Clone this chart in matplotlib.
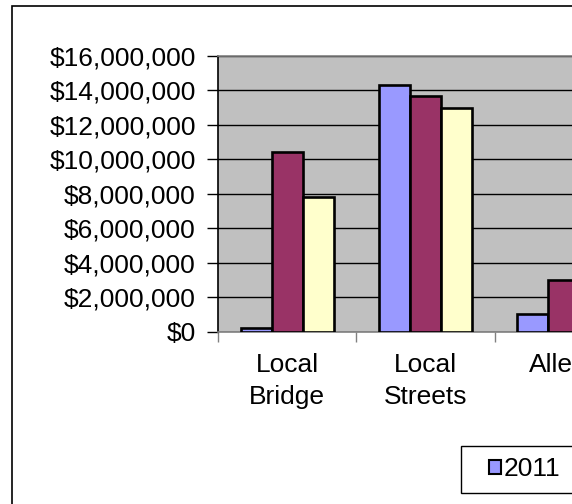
import matplotlib
matplotlib.use("Agg")
import matplotlib.pyplot as plt
from matplotlib.patches import Rectangle, Patch
from matplotlib.ticker import FuncFormatter, MultipleLocator
import numpy as np

categories = ["Local\nBridge", "Local\nStreets", "Alleys"]
series_names = ["2011", "2012", "2013"]
values_2011 = [200000, 14280000, 1010000]
values_2012 = [10410000, 13680000, 3020000]
values_2013 = [7780000, 12960000, 2500000]
colors = ["#9999FF", "#993366", "#FFFFCC"]

W, H = 572, 504
plt.rcParams['font.family'] = ['Liberation Sans', 'DejaVu Sans']
fig = plt.figure(figsize=(W / 100, H / 100), dpi=100)

# outer chart frame (right/bottom edges beyond the image)
fig.patches.append(Rectangle((12 / W, -0.1), 1.2, (504 - 6) / H + 0.1,
                             transform=fig.transFigure, fill=False,
                             edgecolor="black", linewidth=1.2, zorder=0))

cat_w = 138.3
left, top, bottom = 218, 55.7, 331.7
ax = fig.add_axes([left / W, (H - bottom) / H, 3 * cat_w / W, (bottom - top) / H])
ax.set_facecolor("#C0C0C0")

x = np.arange(len(categories))
bw = 31 / cat_w
for k, (vals, c, name) in enumerate(zip([values_2011, values_2012, values_2013], colors, series_names)):
    ax.bar(x + (k - 1) * bw, vals, width=bw, color=c, edgecolor="black",
           linewidth=1.9, zorder=3, label=name)

ax.set_xlim(-0.5, len(categories) - 0.5)
ax.set_ylim(0, 16000000)
ax.yaxis.set_major_locator(MultipleLocator(2000000))
ax.yaxis.set_major_formatter(FuncFormatter(lambda v, p: "${:,.0f}".format(v)))
ax.grid(axis="y", color="black", linewidth=1.0, zorder=1)
ax.set_axisbelow(True)

FS = 19
ax.set_xticks(x)
ax.set_xticklabels(categories, fontsize=FS, linespacing=1.45)
ax.set_xticks(np.arange(len(categories) + 1) - 0.5, minor=True)
ax.tick_params(axis="x", which="major", length=0, pad=15)
ax.tick_params(axis="x", which="minor", length=7, width=1, color="#808080", direction="out")
ax.tick_params(axis="y", labelsize=FS, length=8, width=1, color="black", pad=8)

for s in ["top", "right", "bottom"]:
    ax.spines[s].set_color("#808080")
    ax.spines[s].set_linewidth(1.2)
ax.spines["left"].set_color("black")
ax.spines["left"].set_linewidth(1.2)

# legend frame (extends beyond the right edge)
fig.patches.append(Rectangle((461 / W, (H - 493) / H), 1.0, (493 - 446) / H,
                             transform=fig.transFigure, fill=True, facecolor="white",
                             edgecolor="black", linewidth=1.0, zorder=1))
handles = [Patch(facecolor=c, edgecolor="black", linewidth=1.5) for c in colors]
leg = fig.legend(handles, series_names, loc="center left",
                 bbox_to_anchor=(489 / W, (H - 469.5) / H), ncol=3,
                 fontsize=FS, frameon=False,
                 handlelength=0.45, handleheight=0.45, handletextpad=0.1,
                 borderpad=0, borderaxespad=0, columnspacing=2.5)
leg.set_zorder(2)

fig.savefig("out.png", dpi=100)
